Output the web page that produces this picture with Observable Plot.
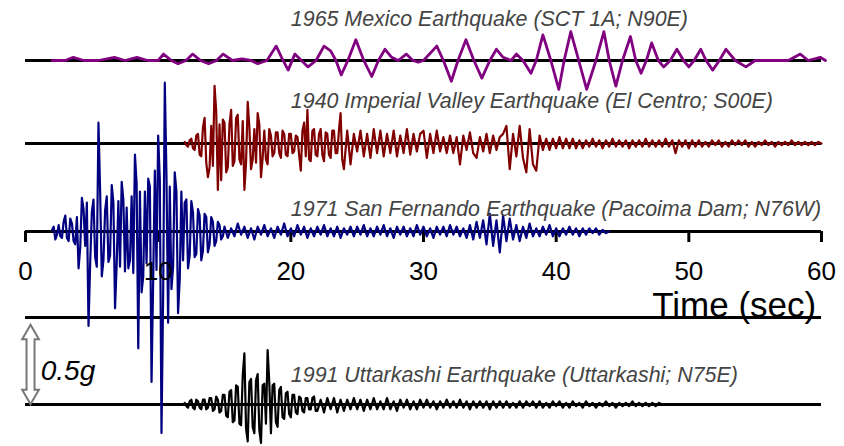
<!DOCTYPE html>
<html>
<head>
<meta charset="utf-8">
<script src="https://cdn.jsdelivr.net/npm/d3@7"></script>
<script src="https://cdn.jsdelivr.net/npm/@observablehq/plot@0.6"></script>
<style>
  html, body { margin: 0; padding: 0; background: #fff; }
  #chart svg { display: block; }
</style>
</head>
<body>
<div id="chart"></div>
<script>
// ---------------- DATA ----------------
const timeTicks = [0, 10, 20, 30, 40, 50, 60];
const tickLabels = ["0", "10", "20", "30", "40", "50", "60"];
const axisTitle = "Time (sec)";
const scaleLabel = "0.5g";
const scaleBarG = 0.5;

const titles = [
  "1965 Mexico Earthquake (SCT 1A; N90E)",
  "1940 Imperial Valley Earthquake (El Centro; S00E)",
  "1971 San Fernando Earthquake (Pacoima Dam; N76W)",
  "1991 Uttarkashi Earthquake (Uttarkashi; N75E)"
];

// Mexico record: [time (s), acceleration (0.01 g)]
const mexicoRecord = [
  [2.0,0],[3.0,0],[3.6,2],[4.4,0],[5.5,0],[6.7,2],[7.5,0],[8.4,2],[9.2,0],[10.0,0],
  [10.4,4],[11.0,0],[11.5,-2],[12.1,0],[12.6,4],[13.2,0],[13.8,-2],[14.4,0],[14.9,4],[15.6,0],
  [16.3,1],[17.0,0],[17.5,-2],[18.2,0],[18.9,9],[19.3,2],[19.8,-6],[20.3,4],[20.8,0],[21.3,-4],
  [21.9,0],[22.5,9],[23.0,6],[23.4,0],[23.8,-9],[24.3,0],[24.9,13],[25.5,0],[26.1,-10],[26.6,0],
  [27.1,7],[27.6,2],[28.1,0],[28.7,4],[29.2,0],[29.6,-1],[30.0,0],[31.0,9],[31.5,0],[32.1,-13],
  [32.6,0],[33.2,13],[33.8,0],[34.4,-11],[35.0,0],[35.5,7],[36.0,2],[36.6,0],[37.0,4],[37.5,0],
  [38.1,-8],[38.5,0],[39.0,16],[39.6,0],[40.2,-18],[40.6,0],[41.1,18],[41.7,0],[42.3,-18],[43.0,0],
  [43.6,18],[44.0,0],[44.5,-16],[45.0,0],[45.6,15],[46.0,0],[46.4,-8],[46.8,0],[47.2,11],[47.7,0],
  [48.1,-4],[48.6,0],[49.1,7],[49.6,0],[50.0,-4],[50.4,0],[50.9,7],[51.3,0],[51.8,-6],[52.3,0],
  [52.8,7],[53.5,0],[54.3,-4],[55.0,0],[56.4,0],[57.5,0],[58.4,4],[59.0,0],[59.9,2],[60.3,0]
];

// Imperial Valley (acceleration in 0.01 g)
// strong part: from 12 s every 0.125 s; tail: from 24 s every 0.25 s
const imperialStrongStart = 12, imperialStrongStep = 0.125;
const imperialStrong = [
  1,-1,-2,2,3,-3,-4,5,6,-7,-8,10,16,-12,-21,-15,11,-14,36,20,-29,12,-23,15,
  13,-18,-15,12,21,-14,-11,16,18,-10,-13,14,-29,-12,26,10,-16,-10,9,-12,19,12,-21,-9,
  8,-10,-13,9,5,-8,-6,7,7,-6,-9,8,6,-7,-8,6,6,-6,-5,5,4,-7,-17,8,
  13,-8,21,-10,-11,8,9,-7,-8,6,9,-7,-11,7,6,-7,-9,8,8,-6,-6,8,19,-10
];
const imperialTailStart = 24, imperialTailStep = 0.25;
const imperialTail = [
  -16,8,-13,6,-5,8,-8,6,-9,9,-6,8,
  -8,6,-6,8,-8,5,-6,9,-7,6,-5,6,
  8,-9,6,-6,8,-5,4,-6,5,-6,4,-13,
  5,-4,7,-6,-9,4,-5,6,-6,5,-4,4,
  6,11,-16,6,-8,11,-9,-18,9,-13,-17,5,
  -4,3,-4,3,-3,4,-3,3,-3,3,-3,2,
  -3,2,-2,3,-2,2,-3,2,-2,3,-2,2,
  -2,2,-3,2,-2,2,-2,3,-2,2,-2,2,
  -2,3,-2,2,-6,2,-2,2,-3,2,-2,2,
  -2,1,-2,2,-1,2,-2,1,-2,2,-1,2,
  -1,2,-2,1,-2,1,-1,2,-1,1,-2,1,
  -1,1,-1,2,-1,1,-1,1,-1,1,-1,1,0
];

// San Fernando (acceleration in 0.01 g)
// strong part: from 2 s every 0.125 s; tail: from 15 s every 0.25 s
const sanFernandoStrongStart = 2, sanFernandoStrongStep = 0.125;
const sanFernandoStrong = [
  1,3,-5,-2,4,-3,-4,6,10,-4,-6,8,5,-6,-8,9,-23,-10,21,14,-9,18,-59,-20,12,20,-16,-22,68,25,-28,-18,
  13,22,-19,-15,29,18,-48,-20,19,-22,31,20,-25,15,-23,-18,22,-26,48,30,-73,25,-38,-28,25,-20,33,28,
  -94,-30,38,-24,60,32,-126,-40,93,35,-57,28,-36,-22,37,25,-51,-30,25,-18,18,20,-23,-15,19,12,
  -16,-14,14,10,-18,-12,11,9,-13,-8,9,6,-9,-6,6,4,-5,-3
];
const sanFernandoTailStart = 15, sanFernandoTailStep = 0.25;
const sanFernandoTail = [
  3,-4,2,-3,5,-2,3,-4,2,-5,3,-2,4,-3,2,-4,3,-2,5,-3,
  2,-3,4,-2,3,-4,2,-3,3,-2,4,-3,2,-3,3,-4,2,-2,3,-3,
  3,-2,4,-3,2,-3,3,-2,4,-3,2,-4,3,-2,3,-3,2,-3,4,-2,
  3,-3,2,-4,3,-2,3,-3,4,-2,3,-3,2,-4,4,-5,6,-4,7,-8,
  11,-9,7,-13,10,-6,8,-5,4,-6,3,-4,5,-3,2,-3,3,-2,4,-3,
  2,-3,2,-2,3,-2,2,-3,2,-2,2,-1,2,-2,1,-1,0
];

// Uttarkashi (acceleration in 0.01 g)
// strong part: from 12 s every 0.125 s; tail: from 22 s every 0.25 s
const uttarkashiStrongStart = 12, uttarkashiStrongStep = 0.125;
const uttarkashiStrong = [
  1,-1,-2,2,3,-2,-3,3,2,-2,-3,3,3,-3,-2,4,4,-4,-3,5,3,-5,-4,6,
  6,-7,-8,8,9,-11,-10,12,11,-12,-13,18,32,-15,-23,14,16,-14,-18,15,19,-16,-24,12,
  13,-12,34,14,-18,12,13,-11,-14,9,11,-8,-9,7,8,-6,-8,6,6,-5,-6,5,4,-4,
  -5,4,4,-3,-3,4,5,-4
];
const uttarkashiTailStart = 22, uttarkashiTailStep = 0.25;
const uttarkashiTail = [
  -4,3,-5,4,-3,4,-5,3,
  -4,3,-3,4,-3,3,-4,3,-3,4,-3,2,
  -3,4,-3,2,-4,3,-2,3,-3,2,-3,3,
  -2,3,-2,2,-3,2,-2,3,-2,2,-2,3,
  -2,2,-3,2,-2,2,-2,2,-3,2,-2,2,
  -2,2,-2,1,-2,2,-2,2,-1,2,-2,2,
  -2,1,-2,2,-1,2,-2,1,-2,2,-1,1,
  -2,2,-1,1,-2,1,-1,2,-1,1,-2,1,
  -1,1,-1,2,-1,1,-1,1,-1,1,-1,1,0
];

// ---------------- LAYOUT ----------------
const W = 844, H = 446;
const PX_PER_G = 160;               // vertical scale: the 0.5 g bar is 80 px
const px = p => p / PX_PER_G;       // pixel row -> depth (g) on the y scale
const base = { mexico: px(60), imperial: px(143), sanFernando: px(231), uttarkashi: px(404) };
const dividerY = px(317);
const FONT = "'Liberation Sans', Arial, Helvetica, sans-serif";
const barX = 0.38;                  // time position of the scale bar

const seg = (start, step, acc, b) => acc.map((a, i) => ({ t: start + i * step, y: b - a / 100 }));
const mexico = mexicoRecord.map(([t, a]) => ({ t, y: base.mexico - a / 100 }));
const imperial = seg(imperialStrongStart, imperialStrongStep, imperialStrong, base.imperial)
  .concat(seg(imperialTailStart, imperialTailStep, imperialTail, base.imperial));
const sanFernando = seg(sanFernandoStrongStart, sanFernandoStrongStep, sanFernandoStrong, base.sanFernando)
  .concat(seg(sanFernandoTailStart, sanFernandoTailStep, sanFernandoTail, base.sanFernando));
const uttarkashi = seg(uttarkashiStrongStart, uttarkashiStrongStep, uttarkashiStrong, base.uttarkashi)
  .concat(seg(uttarkashiTailStart, uttarkashiTailStep, uttarkashiTail, base.uttarkashi));

const titleRows = [px(19), px(101), px(209), px(375)];
const titleData = titles.map((text, i) => ({ text, y: titleRows[i] }));

const barTop = base.uttarkashi - scaleBarG;   // 0.5 g above the Uttarkashi baseline
const barBottom = base.uttarkashi;
const heads = [
  { y: barTop + px(10), rotate: 0 },
  { y: barBottom - px(10), rotate: 180 }
];

const chart = Plot.plot({
  width: W,
  height: H,
  marginTop: 0,
  marginBottom: 0,
  marginLeft: 25,
  marginRight: 23,
  style: { background: "#fff", overflow: "visible" },
  x: { domain: [0, 60], axis: null },
  y: { domain: [H / PX_PER_G, 0], axis: null },
  marks: [
    // black baselines
    Plot.ruleY([base.mexico, base.imperial, base.sanFernando, dividerY, base.uttarkashi],
      { y: d => d, x1: 0, x2: 60, stroke: "black", strokeWidth: 3 }),
    // time axis ticks
    Plot.ruleX(timeTicks, { x: d => d, y1: base.sanFernando, y2: base.sanFernando + px(11), stroke: "black", strokeWidth: 3 }),
    // traces
    Plot.line(mexico, { x: "t", y: "y", stroke: "#800080", strokeWidth: 2.8 }),
    Plot.line(imperial, { x: "t", y: "y", stroke: "#800000", strokeWidth: 2.2 }),
    Plot.line(uttarkashi, { x: "t", y: "y", stroke: "#000000", strokeWidth: 2.2 }),
    Plot.line(sanFernando, { x: "t", y: "y", stroke: "#000080", strokeWidth: 2.2 }),
    // tick labels
    Plot.text(timeTicks, { x: d => d, y: px(271), text: (d, i) => tickLabels[i], fontSize: 26, fontFamily: FONT, fill: "black" }),
    Plot.text([axisTitle], { x: 59.6, y: px(305), text: d => d, textAnchor: "end", fontSize: 35, fontFamily: FONT, fill: "black" }),
    // earthquake titles
    Plot.text(titleData, { x: 20, y: "y", text: "text", textAnchor: "start", fontSize: 21.4, fontStyle: "italic", fontFamily: FONT, fill: "#444" }),
    // scale bar: hollow double arrow
    Plot.link([scaleBarG], { x1: barX, x2: barX, y1: barTop + px(12), y2: barBottom - px(12), stroke: "#777", strokeWidth: 10 }),
    Plot.dot(heads, { x: barX, y: "y", rotate: "rotate", symbol: "triangle", r: 6.2, fill: "white", stroke: "#777", strokeWidth: 2 }),
    Plot.link([scaleBarG], { x1: barX, x2: barX, y1: barTop + px(9), y2: barBottom - px(9), stroke: "white", strokeWidth: 6 }),
    Plot.text([scaleLabel], { x: 1.15, y: px(371), text: d => d, textAnchor: "start", fontSize: 28, fontStyle: "italic", fontFamily: FONT, fill: "black" })
  ]
});
document.getElementById("chart").appendChild(chart);
</script>
</body>
</html>
